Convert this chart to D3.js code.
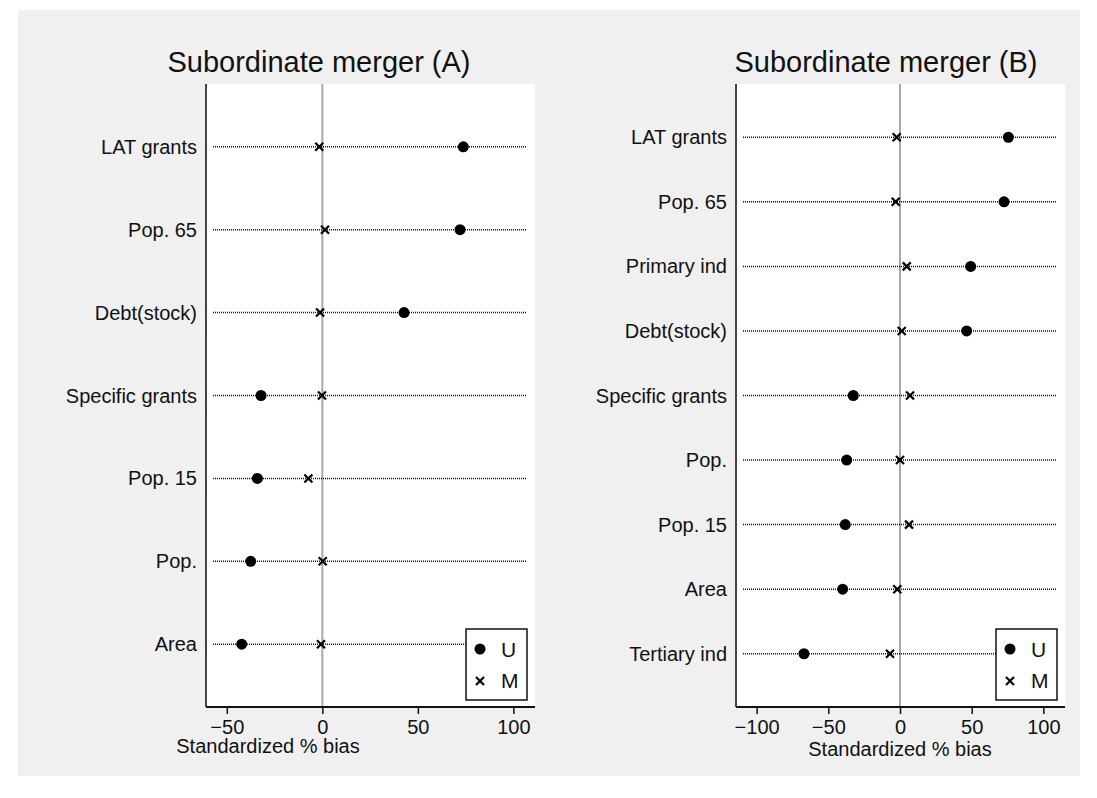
<!DOCTYPE html>
<html>
<head>
<meta charset="utf-8">
<script src="https://cdn.jsdelivr.net/npm/d3@7"></script>
<style>
  body { margin: 0; background: #fff; }
  svg text { font-family: "Liberation Sans", Arial, Helvetica, sans-serif; fill: #111; }
</style>
</head>
<body>
<svg id="chart" width="1097" height="798"></svg>
<script>
// ---- data ----
var varsA = ['LAT grants', 'Pop. 65', 'Debt(stock)', 'Specific grants', 'Pop. 15', 'Pop.', 'Area'];
var unmatchedA = [73.8, 72.1, 42.8, -32.1, -34.0, -37.5, -42.2];
var matchedA   = [-1.6, 1.4, -1.2, -0.2, -7.3, 0.2, -0.7];

var varsB = ['LAT grants', 'Pop. 65', 'Primary ind', 'Debt(stock)', 'Specific grants', 'Pop.', 'Pop. 15', 'Area', 'Tertiary ind'];
var unmatchedB = [75.6, 72.6, 49.3, 46.5, -32.6, -37.2, -38.2, -40.0, -67.0];
var matchedB   = [-2.3, -3.0, 4.7, 1.2, 7.0, 0.0, 6.3, -1.9, -7.0];

var ticksA = [-50, 0, 50, 100];
var ticksB = [-100, -50, 0, 50, 100];
var legendLabels = ['U', 'M'];

var svg = d3.select('#chart');

// grey graph region inside a thin white margin
svg.append('rect')
	.attr('x', 18).attr('y', 10)
	.attr('width', 1062).attr('height', 766)
	.attr('fill', '#f0f0f0');

function drawPanel(opt){

	var x = d3.scaleLinear()
		.domain(opt.domain)
		.range([opt.left, opt.right]);

	var y = d3.scalePoint()
		.domain(opt.vars)
		.range([opt.top, opt.bottom])
		.padding(opt.pad);

	var g = svg.append('g');

	// plot region
	g.append('rect')
		.attr('x', opt.left).attr('y', opt.top)
		.attr('width', opt.right - opt.left + 1)
		.attr('height', opt.bottom - opt.top)
		.attr('fill', '#fff');

	// zero reference line
	g.append('line')
		.attr('x1', x(0)).attr('x2', x(0))
		.attr('y1', opt.top).attr('y2', opt.bottom)
		.attr('stroke', '#a8a8a8')
		.attr('stroke-width', 2);

	// dotted row lines
	g.selectAll('line.row')
		.data(opt.vars)
		.enter()
		.append('line')
		.attr('class', 'row')
		.attr('x1', opt.left + 7)
		.attr('x2', opt.right - 8)
		.attr('y1', function(d){ return y(d); })
		.attr('y2', function(d){ return y(d); })
		.attr('stroke', '#111')
		.attr('stroke-width', 1.5)
		.attr('stroke-dasharray', '1,1');

	// matched (M) crosses
	g.selectAll('path.m')
		.data(opt.matched)
		.enter()
		.append('path')
		.attr('class', 'm')
		.attr('transform', function(d, i){ return 'translate(' + x(d) + ',' + y(opt.vars[i]) + ')'; })
		.attr('d', 'M-4,-4L4,4M-4,4L4,-4')
		.attr('stroke', '#000')
		.attr('stroke-width', 2.2);

	// unmatched (U) dots
	g.selectAll('circle.u')
		.data(opt.unmatched)
		.enter()
		.append('circle')
		.attr('class', 'u')
		.attr('cx', function(d){ return x(d); })
		.attr('cy', function(d, i){ return y(opt.vars[i]); })
		.attr('r', 5.5)
		.attr('fill', '#000');

	// x axis
	var xAxis = d3.axisBottom(x)
		.tickValues(opt.ticks)
		.tickSize(7)
		.tickPadding(6)
		.tickFormat(function(d){ return d < 0 ? '\u2212' + Math.abs(d) : d; });

	var ax = g.append('g')
		.attr('transform', 'translate(0,' + opt.bottom + ')')
		.call(xAxis);
	ax.select('.domain')
		.attr('d', 'M' + opt.left + ',0H' + (opt.right + 1))
		.attr('stroke', '#111')
		.attr('stroke-width', 1.8);
	ax.selectAll('.tick line').attr('stroke', '#111').attr('stroke-width', 1.5);
	ax.selectAll('.tick text')
		.style('font-size', '20px')
		.attr('fill', '#111');

	// left axis line
	g.append('line')
		.attr('x1', opt.left).attr('x2', opt.left)
		.attr('y1', opt.top).attr('y2', opt.bottom)
		.attr('stroke', '#444')
		.attr('stroke-width', 2);

	// row labels
	g.selectAll('text.lab')
		.data(opt.vars)
		.enter()
		.append('text')
		.attr('class', 'lab')
		.attr('x', opt.left - 9)
		.attr('y', function(d){ return y(d); })
		.attr('dy', '0.35em')
		.attr('text-anchor', 'end')
		.style('font-size', '20px')
		.text(function(d){ return d; });

	// title
	g.append('text')
		.attr('x', opt.titleX)
		.attr('y', 72)
		.attr('text-anchor', 'middle')
		.style('font-size', '29px')
		.text(opt.title);

	// axis title
	g.append('text')
		.attr('x', opt.xTitleX)
		.attr('y', opt.xTitleY)
		.attr('text-anchor', 'middle')
		.style('font-size', '20px')
		.text('Standardized % bias');

	// legend
	var lx = opt.right - 68, ly = 629;
	var lg = g.append('g').attr('transform', 'translate(' + lx + ',' + ly + ')');
	lg.append('rect')
		.attr('width', 61).attr('height', 71)
		.attr('fill', '#fff')
		.attr('stroke', '#111')
		.attr('stroke-width', 1.5);
	lg.append('circle')
		.attr('cx', 14).attr('cy', 20).attr('r', 5.5)
		.attr('fill', '#000');
	lg.append('path')
		.attr('transform', 'translate(14,52)')
		.attr('d', 'M-4,-4L4,4M-4,4L4,-4')
		.attr('stroke', '#000')
		.attr('stroke-width', 2.2);
	lg.selectAll('text')
		.data(legendLabels)
		.enter()
		.append('text')
		.attr('x', 35)
		.attr('y', function(d, i){ return 28 + i * 31; })
		.style('font-size', '21px')
		.text(function(d){ return d; });
}

drawPanel({
	title: 'Subordinate merger (A)',
	vars: varsA, unmatched: unmatchedA, matched: matchedA, ticks: ticksA,
	domain: [-60.9, 110.8],
	left: 206, right: 534, top: 84, bottom: 707, pad: 0.757,
	titleX: 319, xTitleX: 268, xTitleY: 753
});

drawPanel({
	title: 'Subordinate merger (B)',
	vars: varsB, unmatched: unmatchedB, matched: matchedB, ticks: ticksB,
	domain: [-114.4, 114.4],
	left: 736, right: 1064, top: 84, bottom: 707, pad: 0.825,
	titleX: 886, xTitleX: 900, xTitleY: 756
});
</script>
</body>
</html>
